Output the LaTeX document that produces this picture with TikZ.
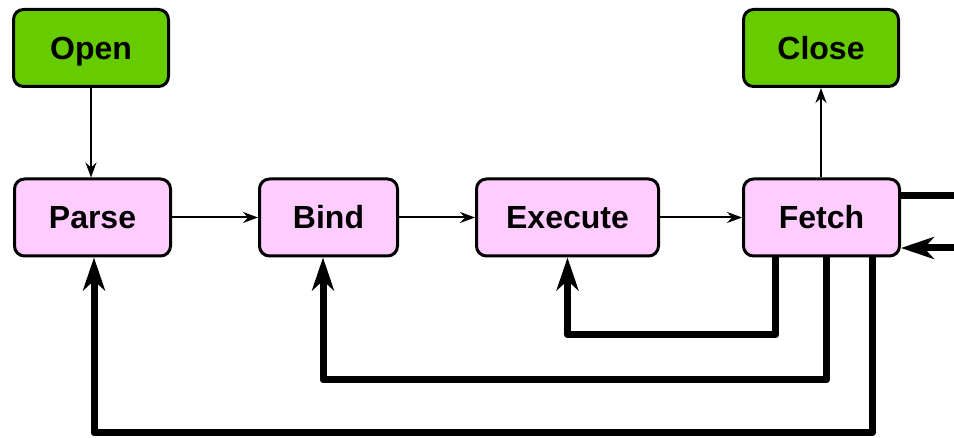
\documentclass[tikz,border=0pt]{standalone}
\usepackage{fontspec}
\setmainfont{Liberation Sans}
\usetikzlibrary{arrows.meta,calc}
\definecolor{termgreen}{HTML}{66CC00}
\definecolor{stagepink}{HTML}{FFCCFF}
\tikzset{
  box/.style={draw=black, line width=3pt, rounded corners=10pt, minimum height=77pt,
    font=\fontsize{32}{38}\selectfont\bfseries, inner sep=0pt,
    text height=23pt, text depth=0pt},
  terminal/.style={box, fill=termgreen, minimum width=155pt},
  stage/.style={box, fill=stagepink},
  flow/.style={line width=2pt, -{Stealth[length=15pt,width=11pt,inset=5pt]}},
  back/.style={line width=7pt, line join=round,
    -{Stealth[length=33pt,width=22pt,inset=10pt]}},
  backline/.style={line width=7pt, line join=round}
}
\begin{document}
\begin{tikzpicture}[x=1pt,y=-1pt]
  \useasboundingbox (0,0) rectangle (954,438);

  % terminals
  \node[terminal] (open)  at (91,48)  {Open};
  \node[terminal] (close) at (821,48) {Close};

  % pipeline stages
  \node[stage, minimum width=156pt] (parse) at (92.5,217.5)  {Parse};
  \node[stage, minimum width=138pt] (bind)  at (328.5,217.5) {Bind};
  \node[stage, minimum width=182pt] (exec)  at (567.5,217.5) {Execute};
  \node[stage, minimum width=156pt] (fetch) at (821.5,217.5) {Fetch};

  % forward flow
  \draw[flow] (open.south) -- (open.south |- parse.north);
  \draw[flow] (parse) -- (bind);
  \draw[flow] (bind)  -- (exec);
  \draw[flow] (exec)  -- (fetch);
  \draw[flow] (fetch.north -| close.south) -- (close.south);

  % loop back from fetch
  \draw[back] ($(fetch.south)+(-46,0)$) |- (567.5,335) -- (exec.south);
  \draw[back] ($(fetch.south)+(5,0)$)   |- (323,380)   -- ($(bind.south)+(-5.5,0)$);
  \draw[back] ($(fetch.south)+(51,0)$)  |- (94,433)    -- ($(parse.south)+(1.5,0)$);

  % row loop on the right
  \coordinate (outA) at (970,196);
  \coordinate (outB) at (970,248);
  \draw[backline] (fetch.east |- outA) -- (outA);
  \draw[back] (outB) -- (fetch.east |- outB);
\end{tikzpicture}
\end{document}
